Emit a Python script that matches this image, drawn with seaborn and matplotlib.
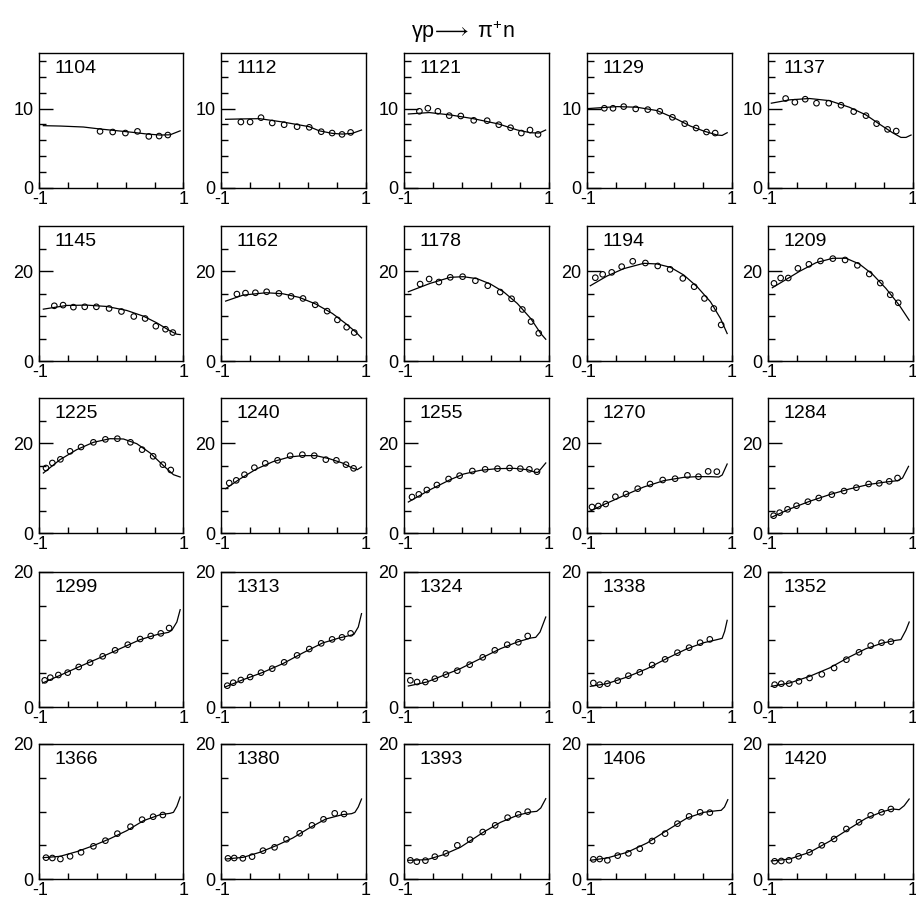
import matplotlib
matplotlib.use("Agg")
import matplotlib.pyplot as plt
import matplotlib.transforms as mtransforms
import seaborn as sns
import pandas as pd

plt.rcParams['font.family'] = ['Liberation Sans', 'DejaVu Sans']
plt.rcParams['mathtext.fontset'] = 'custom'
plt.rcParams['mathtext.rm'] = 'Liberation Sans'
plt.rcParams['mathtext.it'] = 'Liberation Sans:italic'

TITLE = r'$\mathregular{γp}\!\longrightarrow\mathregular{\ π^{+}n}$'
ENERGIES = [1104, 1112, 1121, 1129, 1137,
            1145, 1162, 1178, 1194, 1209,
            1225, 1240, 1255, 1270, 1284,
            1299, 1313, 1324, 1338, 1352,
            1366, 1380, 1393, 1406, 1420]

# ---------------- measured points (cos theta, dsigma/dOmega) ----------------
X1104 = [-0.155, 0.02, 0.196, 0.363, 0.52, 0.663, 0.783]
Y1104 = [7.13, 7.05, 6.92, 7.13, 6.5, 6.54, 6.67]
X1112 = [-0.725, -0.597, -0.446, -0.291, -0.126, 0.053, 0.222, 0.387, 0.538, 0.675, 0.794]
Y1112 = [8.31, 8.31, 8.86, 8.19, 7.97, 7.72, 7.64, 7.09, 6.92, 6.75, 7.0]
X1121 = [-0.787, -0.67, -0.531, -0.374, -0.214, -0.035, 0.151, 0.312, 0.475, 0.624, 0.744, 0.855]
Y1121 = [9.66, 10.04, 9.66, 9.11, 9.07, 8.52, 8.48, 7.97, 7.59, 6.92, 7.3, 6.75]
X1129 = [-0.76, -0.64, -0.492, -0.326, -0.159, 0.007, 0.182, 0.353, 0.51, 0.654, 0.774]
Y1129 = [10.04, 10.04, 10.25, 9.96, 9.87, 9.66, 8.9, 8.1, 7.55, 7.05, 6.92]
X1137 = [-0.756, -0.628, -0.485, -0.329, -0.159, 0.011, 0.186, 0.356, 0.503, 0.655, 0.775]
Y1137 = [11.27, 10.8, 11.18, 10.68, 10.68, 10.42, 9.62, 9.11, 8.1, 7.38, 7.17]
X1145 = [-0.788, -0.667, -0.524, -0.367, -0.206, -0.03, 0.141, 0.312, 0.469, 0.617, 0.751, 0.852]
Y1145 = [12.27, 12.42, 11.97, 12.04, 12.04, 11.67, 11.0, 9.89, 9.44, 7.73, 7.06, 6.32]
X1162 = [-0.78, -0.661, -0.524, -0.368, -0.199, -0.03, 0.135, 0.304, 0.469, 0.611, 0.739, 0.844]
Y1162 = [14.87, 15.09, 15.17, 15.39, 15.02, 14.35, 13.9, 12.49, 11.08, 9.14, 7.51, 6.32]
X1178 = [-0.777, -0.652, -0.517, -0.36, -0.189, -0.012, 0.159, 0.332, 0.489, 0.638, 0.758, 0.865]
Y1178 = [17.1, 18.22, 17.55, 18.59, 18.74, 17.84, 16.73, 15.32, 13.83, 11.45, 8.77, 6.17]
X1194 = [-0.885, -0.783, -0.658, -0.52, -0.367, -0.192, -0.021, 0.15, 0.326, 0.483, 0.626, 0.755, 0.857]
Y1194 = [18.51, 19.26, 19.7, 20.97, 22.16, 21.78, 21.12, 20.37, 18.36, 16.51, 13.9, 11.67, 8.03]
X1209 = [-0.917, -0.825, -0.72, -0.586, -0.434, -0.274, -0.103, 0.067, 0.237, 0.402, 0.554, 0.692, 0.802]
Y1209 = [17.25, 18.44, 18.44, 20.59, 21.49, 22.23, 22.75, 22.45, 21.26, 19.33, 17.32, 14.72, 12.94]
X1225 = [-0.903, -0.815, -0.704, -0.57, -0.418, -0.247, -0.081, 0.085, 0.266, 0.427, 0.58, 0.714, 0.824]
Y1225 = [14.44, 15.56, 16.37, 18.15, 19.11, 20.15, 20.81, 20.96, 20.15, 18.52, 17.04, 15.19, 14.0]
X1240 = [-0.886, -0.789, -0.675, -0.538, -0.387, -0.217, -0.043, 0.126, 0.291, 0.451, 0.597, 0.73, 0.835]
Y1240 = [11.11, 11.7, 12.96, 14.52, 15.48, 16.15, 17.19, 17.41, 17.19, 16.3, 16.15, 15.19, 14.37]
X1255 = [-0.889, -0.795, -0.684, -0.545, -0.383, -0.23, -0.054, 0.123, 0.294, 0.461, 0.61, 0.735, 0.841]
Y1255 = [8.0, 8.59, 9.56, 10.67, 12.0, 12.74, 13.78, 14.15, 14.3, 14.44, 14.3, 14.15, 13.63]
X1270 = [-0.931, -0.843, -0.741, -0.607, -0.46, -0.298, -0.127, 0.048, 0.219, 0.39, 0.543, 0.677, 0.797]
Y1270 = [5.78, 6.0, 6.44, 8.07, 8.67, 9.85, 10.89, 11.78, 12.07, 12.81, 12.52, 13.7, 13.63]
X1284 = [-0.922, -0.839, -0.729, -0.605, -0.448, -0.297, -0.117, 0.053, 0.223, 0.393, 0.54, 0.678, 0.793]
Y1284 = [3.85, 4.52, 5.26, 6.07, 6.96, 7.78, 8.52, 9.33, 10.07, 10.89, 11.04, 11.48, 12.22]
X1299 = [-0.921, -0.843, -0.732, -0.603, -0.45, -0.293, -0.118, 0.053, 0.229, 0.4, 0.547, 0.686, 0.801]
Y1299 = [3.95, 4.35, 4.74, 5.09, 5.93, 6.57, 7.51, 8.4, 9.23, 10.07, 10.52, 10.91, 11.7]
X1313 = [-0.913, -0.831, -0.725, -0.597, -0.446, -0.291, -0.126, 0.053, 0.222, 0.387, 0.538, 0.675, 0.794]
Y1313 = [3.16, 3.6, 4.0, 4.44, 5.09, 5.68, 6.62, 7.65, 8.59, 9.43, 10.02, 10.32, 10.91]
X1324 = [-0.912, -0.819, -0.704, -0.573, -0.42, -0.262, -0.091, 0.09, 0.257, 0.429, 0.582, 0.712]
Y1324 = [3.95, 3.7, 3.7, 4.2, 4.79, 5.38, 6.27, 7.36, 8.4, 9.23, 9.58, 10.52]
X1338 = [-0.912, -0.824, -0.718, -0.575, -0.427, -0.27, -0.099, 0.081, 0.252, 0.413, 0.566, 0.7]
Y1338 = [3.56, 3.31, 3.46, 3.9, 4.64, 5.14, 6.22, 7.06, 8.05, 8.79, 9.53, 10.02]
X1352 = [-0.908, -0.816, -0.706, -0.572, -0.425, -0.255, -0.085, 0.085, 0.26, 0.421, 0.572, 0.701]
Y1352 = [3.31, 3.46, 3.46, 3.8, 4.3, 4.84, 5.78, 7.01, 8.1, 9.09, 9.53, 9.68]
X1366 = [-0.903, -0.815, -0.704, -0.57, -0.418, -0.247, -0.081, 0.085, 0.266, 0.427, 0.58, 0.714]
Y1366 = [3.16, 3.11, 2.96, 3.36, 3.95, 4.84, 5.68, 6.72, 7.75, 8.79, 9.23, 9.48]
X1380 = [-0.904, -0.817, -0.698, -0.57, -0.419, -0.259, -0.094, 0.089, 0.259, 0.419, 0.574, 0.703]
Y1380 = [3.06, 3.11, 3.06, 3.31, 4.2, 4.69, 5.88, 6.77, 7.95, 8.84, 9.73, 9.63]
X1393 = [-0.912, -0.823, -0.704, -0.573, -0.42, -0.262, -0.086, 0.09, 0.262, 0.434, 0.582, 0.712]
Y1393 = [2.77, 2.57, 2.72, 3.31, 3.8, 4.99, 5.83, 6.96, 7.95, 9.09, 9.58, 9.98]
X1406 = [-0.912, -0.824, -0.718, -0.575, -0.427, -0.27, -0.099, 0.081, 0.252, 0.413, 0.566, 0.7]
Y1406 = [2.91, 2.96, 2.77, 3.46, 3.8, 4.49, 5.63, 6.72, 8.2, 9.28, 9.88, 9.83]
X1420 = [-0.908, -0.816, -0.71, -0.577, -0.425, -0.255, -0.085, 0.085, 0.26, 0.421, 0.572, 0.701]
Y1420 = [2.62, 2.67, 2.77, 3.36, 3.95, 4.99, 5.93, 7.41, 8.4, 9.43, 9.88, 10.37]

# ---------------- model curves ----------------
CX1104 = [-0.94, -0.7, -0.386, -0.155, 0.307, 0.49, 0.677, 0.815, 0.954]
CY1104 = [7.85, 7.8, 7.68, 7.43, 7.0, 6.8, 6.67, 6.7, 7.2]
CX1112 = [-0.936, -0.7, -0.465, -0.144, 0.222, 0.36, 0.54, 0.68, 0.817, 0.945]
CY1112 = [8.65, 8.7, 8.73, 8.31, 7.72, 7.2, 6.88, 6.79, 6.88, 7.3]
CX1121 = [-0.94, -0.65, -0.36, -0.04, 0.31, 0.57, 0.75, 0.87, 0.96]
CY1121 = [9.32, 9.5, 9.2, 8.73, 8.06, 7.3, 6.96, 6.92, 7.3]
CX1129 = [-0.99, -0.58, -0.31, -0.03, 0.247, 0.43, 0.617, 0.8, 0.87, 0.94]
CY1129 = [10.0, 10.25, 10.17, 9.75, 8.65, 7.8, 7.17, 6.67, 6.62, 6.96]
CX1137 = [-0.954, -0.7, -0.425, -0.15, 0.126, 0.356, 0.54, 0.724, 0.84, 0.91, 0.98]
CY1137 = [10.68, 11.1, 11.27, 11.0, 10.17, 9.2, 8.06, 6.96, 6.37, 6.37, 6.67]
CX1145 = [-0.94, -0.617, -0.34, -0.062, 0.215, 0.446, 0.63, 0.815, 0.908, 0.954]
CY1145 = [11.52, 12.34, 12.42, 12.12, 11.23, 9.96, 8.48, 6.69, 5.95, 5.87]
CX1162 = [-0.936, -0.693, -0.373, -0.144, 0.085, 0.314, 0.542, 0.725, 0.863, 0.945]
CY1162 = [13.31, 14.65, 15.17, 14.94, 14.13, 12.64, 10.56, 8.33, 6.47, 5.13]
CX1178 = [-0.94, -0.638, -0.36, -0.18, 0.012, 0.197, 0.382, 0.568, 0.754, 0.893, 0.962]
CY1178 = [15.39, 17.25, 18.59, 18.74, 18.29, 17.1, 15.32, 12.79, 9.44, 6.1, 4.83]
CX1194 = [-0.954, -0.723, -0.492, -0.215, -0.03, 0.155, 0.34, 0.524, 0.709, 0.848, 0.94]
CY1194 = [16.73, 18.88, 20.52, 21.71, 21.56, 20.82, 19.1, 16.5, 13.16, 9.44, 6.1]
CX1209 = [-0.94, -0.747, -0.563, -0.333, -0.103, 0.08, 0.264, 0.448, 0.632, 0.816, 0.954]
CY1209 = [16.28, 18.14, 19.93, 21.86, 22.83, 22.83, 21.56, 19.26, 16.13, 12.42, 9.07]
CX1225 = [-0.94, -0.709, -0.478, -0.247, -0.016, 0.169, 0.353, 0.538, 0.723, 0.861, 0.954]
CY1225 = [13.33, 16.3, 18.52, 20.15, 20.96, 20.89, 19.85, 17.78, 14.96, 12.96, 12.44]
CX1240 = [-0.936, -0.739, -0.51, -0.281, -0.053, 0.13, 0.313, 0.497, 0.68, 0.817, 0.886, 0.945]
CY1240 = [9.85, 12.0, 14.22, 15.85, 16.89, 17.19, 17.19, 16.52, 15.56, 14.44, 14.07, 14.67]
CX1255 = [-0.94, -0.638, -0.36, -0.174, 0.058, 0.29, 0.522, 0.707, 0.823, 0.855, 0.962]
CY1255 = [6.89, 9.63, 11.85, 13.11, 13.93, 14.3, 14.37, 14.07, 13.48, 13.48, 15.56]
CX1270 = [-0.963, -0.769, -0.492, -0.215, 0.062, 0.34, 0.524, 0.709, 0.824, 0.871, 0.94]
CY1270 = [4.81, 6.3, 8.3, 10.22, 11.63, 12.37, 12.52, 12.52, 12.44, 12.89, 15.33]
CX1284 = [-0.954, -0.7, -0.425, -0.149, 0.126, 0.402, 0.632, 0.793, 0.862, 0.945]
CY1284 = [3.48, 5.33, 7.04, 8.52, 9.78, 10.81, 11.33, 11.63, 12.22, 14.81]
CX1299 = [-0.95, -0.709, -0.432, -0.155, 0.122, 0.4, 0.63, 0.792, 0.838, 0.908, 0.954]
CY1299 = [3.56, 4.69, 6.02, 7.31, 8.64, 9.98, 10.72, 11.06, 11.36, 12.59, 14.42]
CX1313 = [-0.945, -0.693, -0.419, -0.144, 0.13, 0.405, 0.634, 0.794, 0.84, 0.9, 0.945]
CY1313 = [2.96, 4.05, 5.14, 6.42, 8.0, 9.48, 10.22, 10.62, 10.77, 11.85, 13.83]
CX1324 = [-0.94, -0.684, -0.453, -0.221, 0.103, 0.336, 0.568, 0.754, 0.823, 0.883, 0.962]
CY1324 = [3.11, 3.7, 4.69, 5.68, 7.41, 8.64, 9.63, 10.22, 10.32, 11.11, 13.33]
CX1338 = [-0.954, -0.723, -0.446, -0.169, 0.109, 0.386, 0.617, 0.8, 0.87, 0.905, 0.94]
CY1338 = [3.06, 3.46, 4.44, 5.68, 7.21, 8.64, 9.53, 9.98, 10.17, 11.2, 12.84]
CX1352 = [-0.954, -0.7, -0.425, -0.149, 0.126, 0.356, 0.586, 0.77, 0.839, 0.908, 0.954]
CY1352 = [3.06, 3.56, 4.54, 5.78, 7.41, 8.64, 9.48, 9.88, 9.98, 11.36, 12.59]
CX1366 = [-0.94, -0.709, -0.478, -0.247, -0.016, 0.215, 0.446, 0.677, 0.815, 0.861, 0.908, 0.954]
CY1366 = [3.16, 3.36, 4.05, 4.94, 5.98, 7.16, 8.64, 9.53, 9.73, 9.88, 10.77, 12.15]
CX1380 = [-0.936, -0.693, -0.465, -0.236, -0.007, 0.222, 0.451, 0.68, 0.808, 0.854, 0.9, 0.945]
CY1380 = [2.96, 3.21, 3.95, 4.94, 6.07, 7.56, 8.89, 9.53, 9.68, 9.88, 10.67, 11.85]
CX1393 = [-0.94, -0.684, -0.453, -0.221, 0.103, 0.336, 0.568, 0.754, 0.837, 0.893, 0.962]
CY1393 = [2.77, 2.86, 3.6, 4.69, 6.96, 8.4, 9.43, 9.93, 10.02, 10.52, 11.9]
CX1406 = [-0.954, -0.723, -0.446, -0.169, 0.109, 0.386, 0.617, 0.8, 0.857, 0.903, 0.949]
CY1406 = [2.77, 3.11, 3.95, 5.33, 7.21, 9.04, 9.88, 10.12, 10.17, 10.67, 11.75]
CX1420 = [-0.954, -0.7, -0.425, -0.149, 0.126, 0.356, 0.586, 0.724, 0.816, 0.885, 0.954]
CY1420 = [2.67, 2.96, 3.95, 5.58, 7.46, 8.99, 9.98, 10.37, 10.27, 10.86, 11.85]

ROW_YMAX = [17, 30, 30, 20, 20]
ROW_MAJOR = [[0, 10], [0, 20], [0, 20], [0, 20], [0, 20]]
ROW_MINOR = [[2, 4, 6, 8, 12, 14, 16], [5, 10, 15, 25], [5, 10, 15, 25], [5, 10, 15], [5, 10, 15]]
X_TICKS = [-1, -0.6, -0.2, 0.2, 0.6, 1]
X_LABELS = ['-1', '', '', '', '', '1']

g = globals()
panels = [(e, g[f'X{e}'], g[f'Y{e}'], g[f'CX{e}'], g[f'CY{e}']) for e in ENERGIES]

W, H = 916, 898
fig = plt.figure(figsize=(W / 100, H / 100), dpi=100)
LEFTS = [39, 221, 404, 587, 768]
TOPS = [53, 226, 398, 572, 744]
AW, AH = 144.5, 135
shift_right = mtransforms.ScaledTranslation(1.5 / 100, 0, fig.dpi_scale_trans)

for i, (e, px, py, cx, cy) in enumerate(panels):
    r, c = divmod(i, 5)
    ax = fig.add_axes([LEFTS[c] / W, 1 - (TOPS[r] + AH) / H, AW / W, AH / H])
    sns.lineplot(x=cx, y=cy, ax=ax, color='black', linewidth=0.9,
                 estimator=None, sort=False)
    sns.scatterplot(x=px, y=py, ax=ax, marker='o', s=16, facecolor='none',
                    edgecolor='black', linewidth=0.8, zorder=3)
    ax.set_xlim(-1, 1)
    ax.set_ylim(0, ROW_YMAX[r])
    ax.set_xticks(X_TICKS)
    ax.set_xticklabels(X_LABELS)
    ax.set_yticks(ROW_MAJOR[r])
    ax.set_yticks(ROW_MINOR[r], minor=True)
    ax.tick_params(axis='x', which='major', direction='in', length=4.5, width=1.0,
                   labelsize=13, pad=2, top=False)
    ax.tick_params(axis='y', which='major', direction='in', length=10, width=1.0,
                   labelsize=13, pad=4, right=False)
    ax.tick_params(axis='y', which='minor', direction='in', length=5, width=1.0,
                   right=False)
    first = ax.get_xticklabels()[0]
    first.set_transform(first.get_transform() + shift_right)
    for sp in ax.spines.values():
        sp.set_linewidth(1.0)
    ax.set_xlabel('')
    ax.set_ylabel('')
    ax.text(0.105, 0.85, str(e), transform=ax.transAxes, fontsize=14,
            ha='left', va='baseline')

fig.text(463 / W, 1 - 38 / H, TITLE, fontsize=15.5, ha='center', va='baseline')
fig.savefig('out.png', dpi=100)
